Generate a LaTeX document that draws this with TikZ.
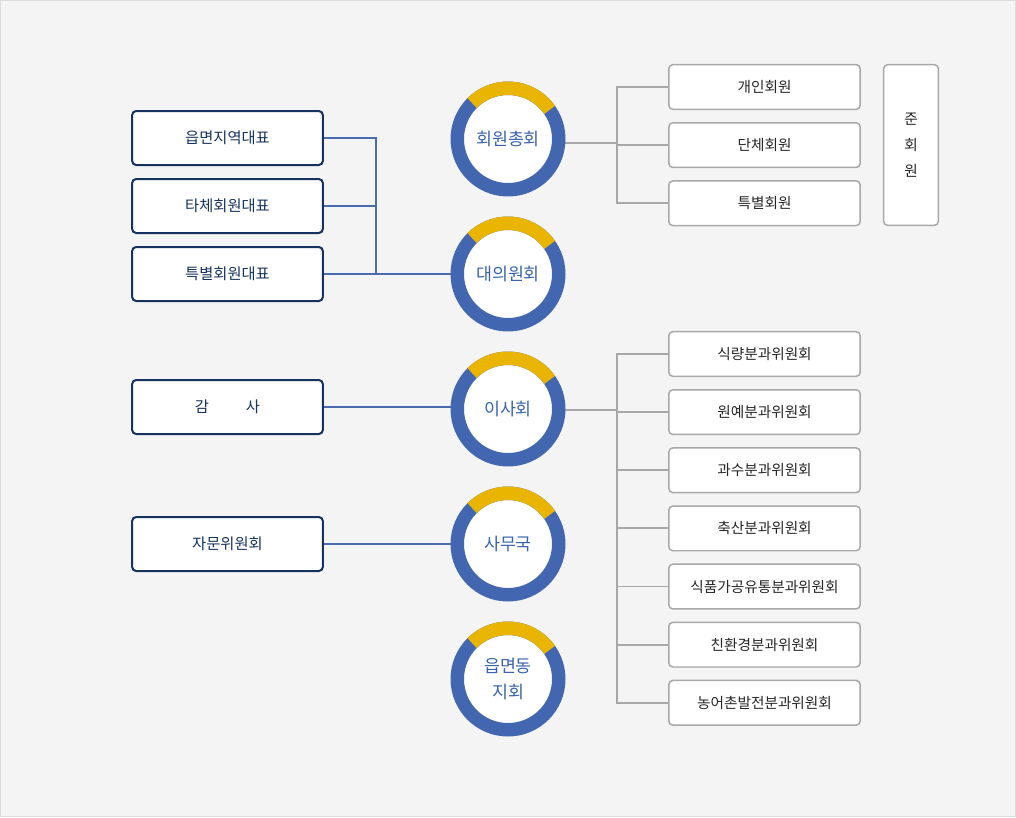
\documentclass[tikz,border=0pt]{standalone}
\usepackage{fontspec}
\setmainfont{Noto Sans CJK KR}
\usetikzlibrary{positioning}
\definecolor{bgcol}{HTML}{F4F4F4}
\definecolor{framecol}{HTML}{DDDDDD}
\definecolor{navy}{HTML}{15335E}
\definecolor{ringblue}{HTML}{4267B0}
\definecolor{ringyellow}{HTML}{E9B501}
\definecolor{circtext}{HTML}{3A63AE}
\definecolor{linkblue}{HTML}{4A6BAE}
\definecolor{boxgray}{HTML}{A8A8A8}

\begin{document}
\begin{tikzpicture}[x=0.75pt, y=-0.75pt,
  leftbox/.style={rectangle, rounded corners=3pt, draw=navy, line width=1.5pt, fill=white, minimum width=143pt, minimum height=40.5pt, text=navy, font=\fontsize{11.5}{13}\selectfont},
  rightbox/.style={rectangle, rounded corners=3pt, draw=boxgray, line width=1.1pt, fill=white, minimum width=143.5pt, minimum height=33.5pt, text=black!85, font=\fontsize{11}{13}\selectfont},
  organ/.style={circle, fill=white, minimum size=66pt, inner sep=0pt, text=circtext, align=center, font=\fontsize{13}{19}\selectfont},
  ring/.style={line width=10.1pt},
  bline/.style={draw=linkblue, line width=1.5pt},
  gline/.style={draw=boxgray, line width=1.4pt}]

  \useasboundingbox (0,0) rectangle (1016,817);
  \fill[bgcol] (0,0) rectangle (1016,817);
  \draw[framecol, line width=0.75pt] (0.5,0.5) rectangle (1015.5,816.5);

  % circles
  \node[organ] (c1) at (508,139) {회원총회};
  \node[organ] (c2) at (508,274) {대의원회};
  \node[organ] (c3) at (508,409) {이사회};
  \node[organ] (c4) at (508,544) {사무국};
  \node[organ] (c5) at (508,679) {읍면동\\지회};

  % left side
  \node[leftbox] (l1) at (227.5,138) {읍면지역대표};
  \node[leftbox] (l2) [below = 9pt of l1] {타체회원대표};
  \node[leftbox] (l3) [below = 9pt of l2] {특별회원대표};
  \node[leftbox] (l4) at (227.5,407) {감\hspace{2.4em}사};
  \node[leftbox] (l5) at (227.5,544) {자문위원회};

  % right side
  \node[rightbox] (r1) at (764.5,87) {개인회원};
  \node[rightbox] (r2) [below = 9pt of r1] {단체회원};
  \node[rightbox] (r3) [below = 9pt of r2] {특별회원};
  \node[rightbox, minimum width=41pt, minimum height=120.5pt, align=center, font=\fontsize{11}{19.5}\selectfont] (jun) at (911,145) {준\\회\\원};

  \node[rightbox] (s1) at (764.5,354) {식량분과위원회};
  \node[rightbox] (s2) [below = 9pt of s1] {원예분과위원회};
  \node[rightbox] (s3) [below = 9pt of s2] {과수분과위원회};
  \node[rightbox] (s4) [below = 9pt of s3] {축산분과위원회};
  \node[rightbox] (s5) [below = 9pt of s4] {식품가공유통분과위원회};
  \node[rightbox] (s6) [below = 9pt of s5] {친환경분과위원회};
  \node[rightbox] (s7) [below = 9pt of s6] {농어촌발전분과위원회};

  \coordinate (lt) at (376,274);
  \coordinate (rt) at (617,143);
  \coordinate (st) at (617,410);

  % connectors
  \draw[bline] (l1.east) -| (lt);
  \draw[bline] (l2.east) -- (l2.east -| lt);
  \draw[bline] (l3.east) -- (c2.west);
  \draw[bline] (l4.east) -- (l4.east -| c3.west);
  \draw[bline] (l5.east) -- (c4.west);

  \draw[gline] (rt -| c1.east) -- (rt);
  \draw[gline] (r1.west) -| (rt) |- (r3.west);
  \draw[gline] (r2.west) -- (r2.west -| rt);

  \draw[gline] (st -| c3.east) -- (st);
  \draw[gline] (s1.west) -| (st) |- (s7.west);
  \foreach \s in {s2,s3,s4,s5,s6}
    \draw[gline] (\s.west) -- (\s.west -| st);

  % rings
  \foreach \c in {c1,c2,c3,c4,c5} {
    \draw[ringblue, ring] (\c) circle (50.75);
    \draw[ringyellow, ring] (\c) ++(-35:50.75) arc[start angle=-35, end angle=-135, radius=50.75];
  }
\end{tikzpicture}
\end{document}
